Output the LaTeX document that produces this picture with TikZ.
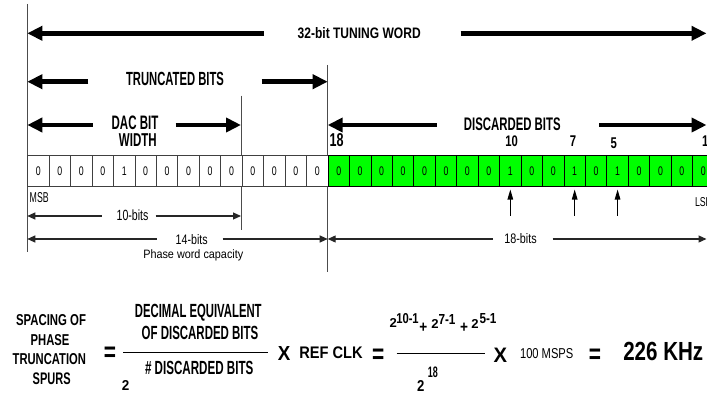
\documentclass[tikz,border=0pt]{standalone}
\usepackage{fontspec}
\usepackage{graphicx}
\usetikzlibrary{arrows.meta}
\newfontfamily\nf{Liberation Sans}
\definecolor{bitgreen}{RGB}{0,255,0}
\newcommand{\rb}[3]{\resizebox{#1pt}{#2pt}{\nf #3}}
\newcommand{\rbb}[3]{\resizebox{#1pt}{#2pt}{\nf\bfseries #3}}
\newcommand{\sx}[2]{\scalebox{#1}[1]{#2}}
\newcommand{\celltxt}[1]{\nf\fontsize{12.5}{12.5}\selectfont\sx{0.7}{#1}}
\newcommand{\eqsign}{\nf\bfseries\fontsize{27.8}{27.8}\selectfont\sx{0.75}{=}}
\newcommand{\plussign}{\nf\bfseries\fontsize{16}{16}\selectfont\sx{0.85}{+}}
\begin{document}
\begin{tikzpicture}[x=1pt,y=-1pt,
  txt/.style={inner sep=0pt, outer sep=0pt},
  bigarrow/.style={line width=4.5pt, -{Triangle[length=15pt,width=14pt]}},
  thinarrow/.style={line width=1.2pt, draw=black!85, -{Triangle[length=8pt,width=7pt]}},
  uparrow/.style={line width=1.1pt, -{Triangle[length=10pt,width=5.5pt]}, shorten >=3pt},
  guide/.style={line width=1pt, draw=black!70},
  cellw/.style={draw=black!75, line width=0.8pt, fill=white, minimum width=21.45pt, minimum height=30.7pt, inner sep=0pt, anchor=north west},
  cellg/.style={cellw, draw=black, fill=bitgreen},
  fracline/.style={line width=1.4pt},
]
\useasboundingbox (0,0) rectangle (707,396);
\clip (0,0) rectangle (707,396);
\fill[white] (0,0) rectangle (707,396);

% guide lines
\coordinate (g0t) at (27.3,4);    \coordinate (g0b) at (27.3,251.7);
\coordinate (g1t) at (241,95.7);  \coordinate (g1b) at (241,230);
\coordinate (g2t) at (327.7,65);  \coordinate (g2b) at (327.7,272);
\draw[guide] (g0t) -- (g0b);
\draw[guide] (g1t) -- (g1b);
\draw[guide] (g2t) -- (g2b);

% cells
\foreach \v [count=\i from 0] in {0,0,0,0,1,0,0,0,0,0,0,0,0,0} {
  \node[cellw] (c\i) at ({27.3+21.45*\i},155) {\celltxt{\v}};
}
\foreach \v [count=\j from 14] in {0,0,0,0,0,0,0,0,1,0,0,1,0,1,0,0,0,0} {
  \node[cellg] (c\j) at ({27.3+21.45*\j},155) {\celltxt{\v}};
}

% 32-bit tuning word
\node[txt] (t32) at (359.2,33.3) {\rbb{123}{11}{32-bit TUNING WORD}};
\coordinate (a32l) at (27.3,33.3);  \coordinate (a32ls) at (264,33.3);
\coordinate (a32r) at (706.5,33.3); \coordinate (a32rs) at (460.7,33.3);
\draw[bigarrow] (a32ls) -- (a32l);
\draw[bigarrow] (a32rs) -- (a32r);

% truncated bits
\node[txt] (ttr) at (175,79.3) {\rbb{98}{13.3}{TRUNCATED BITS}};
\coordinate (atrl) at (27.3,81.7);  \coordinate (atrls) at (88.3,81.7);
\coordinate (atrr) at (327.7,81.7); \coordinate (atrrs) at (261.7,81.7);
\draw[bigarrow] (atrls) -- (atrl);
\draw[bigarrow] (atrrs) -- (atrr);

% DAC bit width
\node[txt] (tdac1) at (135,122.6) {\rbb{46.7}{13.6}{DAC BIT}};
\node[txt] (tdac2) at (137.8,140.4) {\rbb{37.7}{12.8}{WIDTH}};
\coordinate (adl) at (27.3,125);  \coordinate (adls) at (92.7,125);
\coordinate (adr) at (241,125);   \coordinate (adrs) at (175.7,125);
\draw[bigarrow] (adls) -- (adl);
\draw[bigarrow] (adrs) -- (adr);

% discarded bits
\node[txt] (t18) at (336.5,140) {\rbb{14}{13}{18}};
\node[txt] (tdis) at (512.3,124.7) {\rbb{96.7}{12.7}{DISCARDED BITS}};
\coordinate (adsl) at (327.7,125);  \coordinate (adsls) at (436.7,125);
\coordinate (adsr) at (706.5,125);  \coordinate (adsrs) at (599,125);
\draw[bigarrow] (adsls) -- (adsl);
\draw[bigarrow] (adsrs) -- (adsr);
\node[txt] (n10) at (511.5,141.3) {\rbb{12.5}{10.7}{10}};
\node[txt] (n7) at (573,141.3) {\rbb{6.3}{10.7}{7}};
\node[txt] (n5) at (613.7,143.2) {\rbb{6.3}{10.7}{5}};
\node[txt, anchor=west] (n1) at (702,141.3) {\rbb{6.3}{10.7}{1}};

% MSB / LSB
\node[txt] (msb) at (39.2,197.7) {\rb{19}{10}{MSB}};
\node[txt, anchor=west] (lsb) at (695,202.5) {\rb{16.6}{9}{LSB}};

% up arrows
\coordinate (u1) at ([yshift=-29pt]c22.south);
\coordinate (u2) at ([yshift=-29pt]c25.south);
\coordinate (u3) at ([yshift=-29pt]c27.south);
\draw[uparrow] (u1) -- (c22.south);
\draw[uparrow] (u2) -- (c25.south);
\draw[uparrow] (u3) -- (c27.south);

% 10-bits
\node[txt] (t10b) at (132.5,215.3) {\rb{31.7}{10.7}{10-bits}};
\coordinate (b10l) at (27.3,216);  \coordinate (b10ls) at (101.7,216);
\coordinate (b10r) at (241,216);   \coordinate (b10rs) at (155.7,216);
\draw[thinarrow] (b10ls) -- (b10l);
\draw[thinarrow] (b10rs) -- (b10r);

% 14-bits
\node[txt] (t14b) at (191.7,240) {\rb{32}{10}{14-bits}};
\node[txt] (tpwc) at (193.3,255) {\rb{100}{8.8}{Phase word capacity}};
\coordinate (b14l) at (27.3,239);  \coordinate (b14ls) at (156.7,239);
\coordinate (b14r) at (327.7,239); \coordinate (b14rs) at (222.7,239);
\draw[thinarrow] (b14ls) -- (b14l);
\draw[thinarrow] (b14rs) -- (b14r);

% 18-bits
\node[txt] (t18b) at (520.5,239) {\rb{32.4}{10}{18-bits}};
\coordinate (b18l) at (327.7,239);  \coordinate (b18ls) at (492.7,239);
\coordinate (b18r) at (706.5,239);  \coordinate (b18rs) at (552.7,239);
\draw[thinarrow] (b18ls) -- (b18l);
\draw[thinarrow] (b18rs) -- (b18r);

% formula
\node[txt] (s1) at (51,320.5) {\rbb{70}{11}{SPACING OF}};
\node[txt] (s2) at (50,340.5) {\rbb{38.7}{11}{PHASE}};
\node[txt] (s3) at (49.3,359.5) {\rbb{73.3}{11}{TRUNCATION}};
\node[txt] (s4) at (51.7,379) {\rbb{38}{11.7}{SPURS}};
\node[txt, anchor=base] (eq1) at (110,361.4) {\eqsign};

\node[txt] (fn1) at (198.3,312.7) {\rbb{126.7}{13.3}{DECIMAL EQUIVALENT}};
\node[txt] (fn2) at (200,332.7) {\rbb{116.7}{13.3}{OF DISCARDED BITS}};
\coordinate (f1l) at (123.3,352.7); \coordinate (f1r) at (268.3,352.7);
\draw[fracline] (f1l) -- (f1r);
\node[txt] (fd1) at (199.2,368.3) {\rbb{108.3}{13.3}{\# DISCARDED BITS}};
\node[txt] (fd2) at (125.7,385) {\rbb{7.5}{10}{2}};

\node[txt] (x1) at (284.2,353) {\rbb{12.5}{14}{X}};
\node[txt] (ref) at (331,352.5) {\rbb{63.4}{11.7}{REF CLK}};
\node[txt, anchor=base] (eq2) at (378.3,363) {\eqsign};

\node[txt] (p1) at (393.3,322.8) {\rbb{7.3}{9}{2}};
\node[txt] (p2) at (407.5,319) {\rbb{22.5}{10}{10-1}};
\node[txt, anchor=base] (pl1) at (423.3,332.6) {\plussign};
\node[txt] (p3) at (435,324.2) {\rbb{7.3}{9}{2}};
\node[txt] (p4) at (447,319) {\rbb{17}{10}{7-1}};
\node[txt, anchor=base] (pl2) at (464.2,332.6) {\plussign};
\node[txt] (p5) at (475,324.2) {\rbb{7.3}{9}{2}};
\node[txt] (p6) at (488,319) {\rbb{17}{10}{5-1}};
\coordinate (f2l) at (396.7,353.3); \coordinate (f2r) at (485,353.3);
\draw[fracline] (f2l) -- (f2r);
\node[txt] (d1) at (420.7,385.8) {\rbb{7.3}{11}{2}};
\node[txt] (d2) at (432.8,372) {\rbb{10}{10.6}{18}};

\node[txt] (x2) at (500.3,355.5) {\rbb{13.5}{14.4}{X}};
\node[txt] (msps) at (546.7,353.3) {\rb{53.3}{10}{100 MSPS}};
\node[txt, anchor=base] (eq3) at (595,363) {\eqsign};
\node[txt] (khz) at (663.3,351) {\rbb{80}{18.3}{226 KHz}};
\end{tikzpicture}
\end{document}
